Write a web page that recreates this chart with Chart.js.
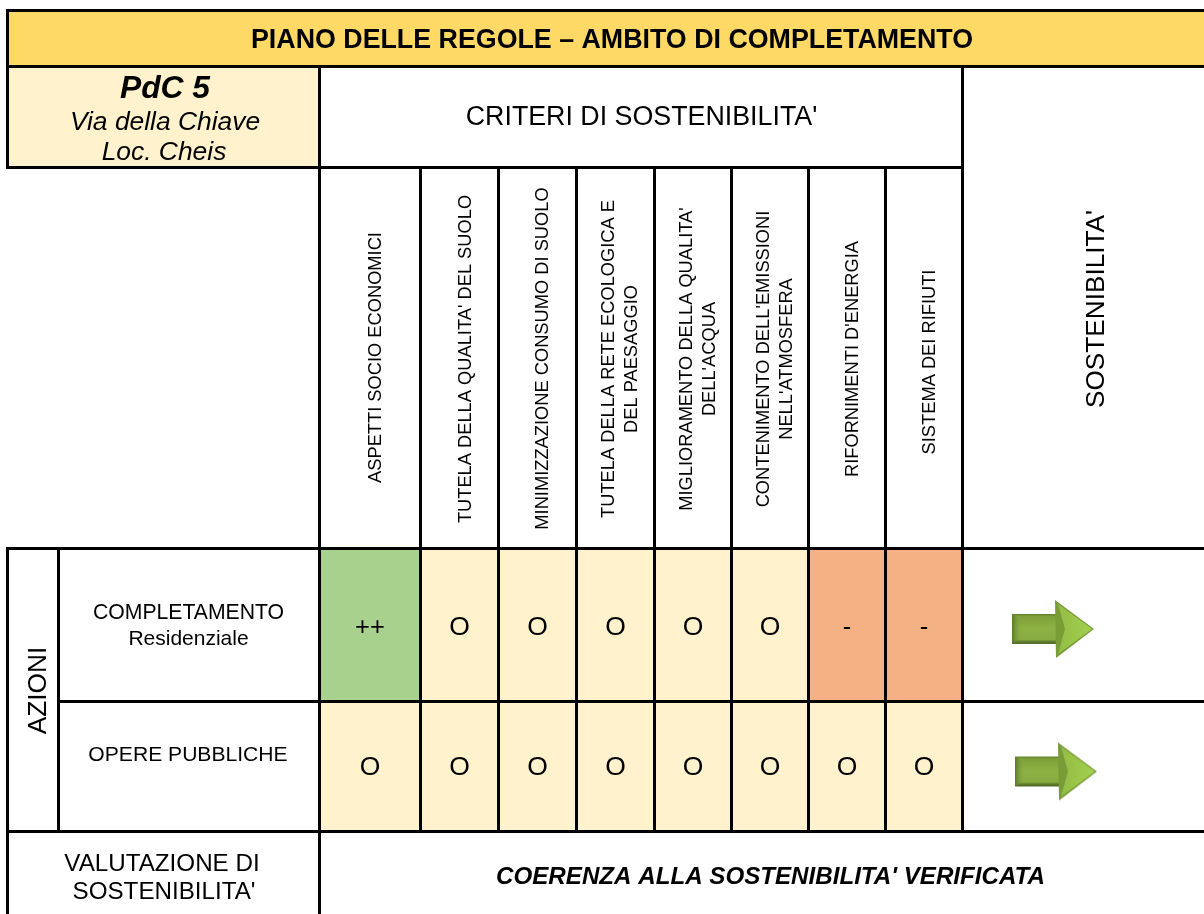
<!DOCTYPE html>
<html><head><meta charset="utf-8">
<style>html,body{margin:0;padding:0;background:#fff;overflow:hidden}#w{position:absolute;left:0;top:0;width:1204px;height:914px}</style>
<script src="https://cdn.jsdelivr.net/npm/chart.js@4/dist/chart.umd.min.js"></script>
</head><body><div id="w"><canvas id="c" width="1204" height="914"></canvas></div>
<script>
// ---- data ----
const titleText = "PIANO DELLE REGOLE – AMBITO DI COMPLETAMENTO";
const siteLines = ["PdC 5", "Via della Chiave", "Loc. Cheis"];
const criteriaHeader = "CRITERI DI SOSTENIBILITA'";
const sustainabilityHeader = "SOSTENIBILITA'";
const actionsHeader = "AZIONI";
const criteria = [
  ["ASPETTI SOCIO ECONOMICI"],
  ["TUTELA DELLA QUALITA' DEL SUOLO"],
  ["MINIMIZZAZIONE CONSUMO DI SUOLO"],
  ["TUTELA DELLA RETE ECOLOGICA E", "DEL PAESAGGIO"],
  ["MIGLIORAMENTO DELLA QUALITA'", "DELL'ACQUA"],
  ["CONTENIMENTO DELL'EMISSIONI", "NELL'ATMOSFERA"],
  ["RIFORNIMENTI D'ENERGIA"],
  ["SISTEMA DEI RIFIUTI"]
];
const actionCompletamento = ["++","O","O","O","O","O","-","-"];
const actionOperePubbliche = ["O","O","O","O","O","O","O","O"];
const verdictLabel = ["VALUTAZIONE DI", "SOSTENIBILITA'"];
const verdictText = "COERENZA ALLA SOSTENIBILITA' VERIFICATA";

// ---- layout & style ----
const W = 1204, H = 914;
const colX = [319.5, 420.5, 498.5, 576.5, 654.5, 731.5, 808.5, 885.5, 962.5];
const ratingColor = {"++":"#A9D18E", "O":"#FFF2CC", "-":"#F4B183"};
const FONT = '"Liberation Sans", Arial, sans-serif';

function rowDataset(ratings, y0, y1){
  const yc=(y0+y1)/2;
  return {type:'bar', indexAxis:'y', grouped:false, barThickness:y1-y0, borderWidth:0, order:5,
    data:ratings.map((r,i)=>({x:[colX[i],colX[i+1]], y:yc})),
    backgroundColor:ratings.map(r=>ratingColor[r])};
}
function block(x0,x1,y0,y1,color){
  return {type:'bar', indexAxis:'y', grouped:false, barThickness:y1-y0, borderWidth:0, order:5,
    data:[{x:[x0,x1], y:(y0+y1)/2}], backgroundColor:color};
}
function rule(x0,y0,x1,y1){
  return {type:'scatter', showLine:true, pointRadius:0, borderColor:'#000', borderWidth:3, order:1,
    borderCapStyle:'butt', data:[{x:x0,y:y0},{x:x1,y:y1}]};
}
function arrowImage(){
  const s=document.createElement('canvas'); s.width=84; s.height=60;
  const g=s.getContext('2d');
  g.translate(1,1);
  let gr=g.createLinearGradient(0,14,0,44);
  gr.addColorStop(0,'#5F7F2C');gr.addColorStop(.08,'#7FA03A');gr.addColorStop(.45,'#8DB143');gr.addColorStop(.85,'#88AC40');gr.addColorStop(.92,'#5E7C2D');gr.addColorStop(1,'#4F6A26');
  g.fillStyle=gr; g.beginPath(); g.moveTo(0,14);g.lineTo(46,14);g.lineTo(46,44);g.lineTo(0,44);g.closePath();g.fill();
  gr=g.createLinearGradient(0,0,10,0);
  gr.addColorStop(0,'#5C7A2E');gr.addColorStop(1,'rgba(138,174,64,0)');
  g.fillStyle=gr; g.beginPath(); g.moveTo(0,14);g.lineTo(10,20);g.lineTo(10,38);g.lineTo(0,44);g.closePath();g.fill();
  g.fillStyle='#7A9C37'; g.beginPath(); g.moveTo(43,0);g.lineTo(82,29);g.lineTo(44,58);g.closePath();g.fill();
  gr=g.createLinearGradient(46,0,82,0);
  gr.addColorStop(0,'#93BC45');gr.addColorStop(.6,'#9DCA4B');gr.addColorStop(1,'#A2D04F');
  g.fillStyle=gr; g.beginPath(); g.moveTo(46,4);g.lineTo(80,29);g.lineTo(46,54);g.lineTo(53,29);g.closePath();g.fill();
  return s;
}
const arrow=arrowImage();

const texts=[
 {t:titleText, x:612, y:41, font:'bold 26.8px'},
 {t:siteLines[0], x:165, y:89, font:'italic bold 31.8px'},
 {t:siteLines[1], x:165, y:123, font:'italic 26.4px'},
 {t:siteLines[2], x:164, y:153, font:'italic 26.4px'},
 {t:criteriaHeader, x:641.5, y:118, font:'26.8px'},
 {t:sustainabilityHeader, x:1097, y:309, font:'26.2px', rot:true},
 {t:actionsHeader, x:39, y:690.5, font:'26.3px', rot:true},
 {t:"COMPLETAMENTO", x:188.5, y:613, font:'21.2px'},
 {t:"Residenziale", x:188.5, y:639, font:'21px'},
 {t:"OPERE PUBBLICHE", x:188, y:755, font:'21.1px'},
 {t:verdictLabel[0], x:162, y:864, font:'24.2px'},
 {t:verdictLabel[1], x:164, y:892, font:'24.2px'},
 {t:verdictText, x:770.5, y:877, font:'italic bold 24.15px'},
];
const symbolRows=[[actionCompletamento,628],[actionOperePubbliche,768]];
symbolRows.forEach(([row,y])=>row.forEach((r,i)=>{
  texts.push({t:r, x:(colX[i]+colX[i+1])/2, y:y, font:r==='O'?'26.5px':'25.5px'});
}));
const critCenter=[376,466,543,620,698,775.5,853,930];
const critY=[357.5,359,358.5,359,359,359,359,362];
criteria.forEach((lines,i)=>{
  const lh=23, n=lines.length;
  lines.forEach((l,k)=>texts.push({t:l, x:critCenter[i]+(k-(n-1)/2)*lh, y:critY[i], font:'18.3px', rot:true}));
});

const tablePlugin={id:'tableText', afterDatasetsDraw(chart){
  const {ctx,scales:{x,y}}=chart;
  ctx.save(); ctx.fillStyle='#000'; ctx.textAlign='center'; ctx.textBaseline='middle';
  texts.forEach(o=>{
    ctx.save();
    ctx.font=o.font+' '+FONT;
    ctx.translate(x.getPixelForValue(o.x), y.getPixelForValue(o.y));
    if(o.rot) ctx.rotate(-Math.PI/2);
    ctx.fillText(o.t,0,0);
    ctx.restore();
  });
  ctx.restore();
}};

const rules=[
 rule(6,10.5,W,10.5), rule(6,66.5,W,66.5), rule(6,167.5,964,167.5),
 rule(6,548.5,W,548.5), rule(58.5,701.5,W,701.5), rule(6,831.5,W,831.5),
 rule(7.5,9,7.5,169), rule(7.5,547,7.5,H), rule(58.5,548,58.5,831),
 rule(319.5,66,319.5,H), rule(962.5,66,962.5,831)
];
colX.slice(1,-1).forEach(c=>rules.push(rule(c,167,c,831)));

new Chart(document.getElementById('c'),{
  data:{datasets:[
    block(9,W,12,65,'#FFD966'),
    block(9,319,68,166,'#FFF2CC'),
    rowDataset(actionCompletamento,550,700),
    rowDataset(actionOperePubbliche,703,830),
    {type:'scatter', order:0, pointStyle:arrow, pointRadius:30,
      data:[{x:1053,y:629},{x:1056,y:771.5}]},
    ...rules
  ]},
  options:{
    responsive:false, animation:false, devicePixelRatio:1,
    layout:{padding:0, autoPadding:false},
    plugins:{legend:{display:false},tooltip:{enabled:false},title:{display:false}},
    scales:{
      x:{type:'linear',min:0,max:W,display:false,offset:false},
      y:{type:'linear',min:0,max:H,reverse:true,display:false,offset:false}
    }
  },
  plugins:[tablePlugin]
});
</script></body></html>
